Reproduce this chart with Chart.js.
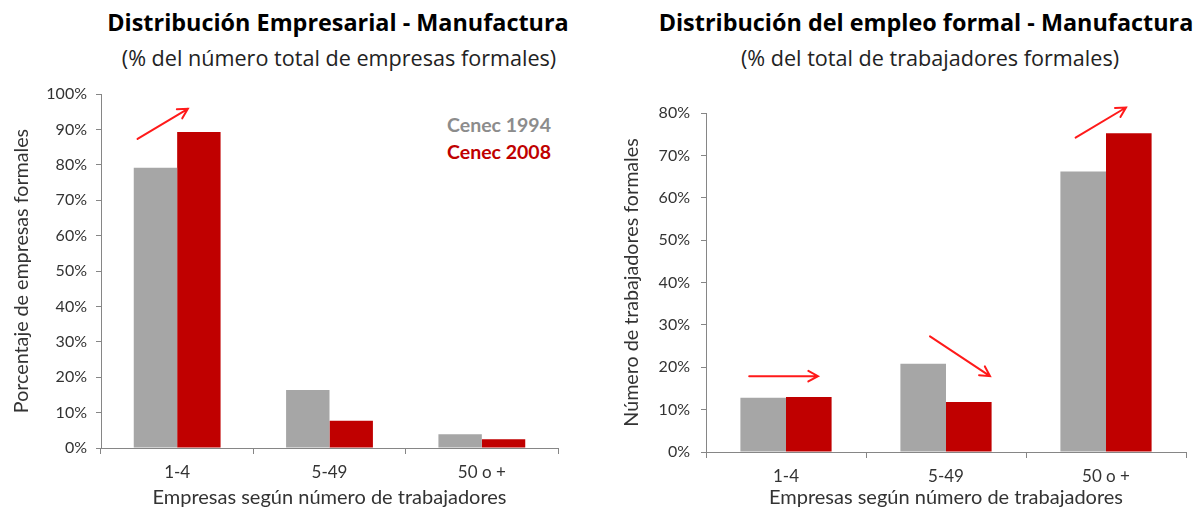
<!DOCTYPE html>
<html>
<head>
<meta charset="utf-8">
<script src="https://cdn.jsdelivr.net/npm/chart.js@4/dist/chart.umd.min.js"></script>
<style>
  body { margin: 0; background: #fff; font-family: Lato, "Open Sans", sans-serif; }
  #wrap { position: relative; width: 1199px; height: 508px; overflow: hidden; }
  .box { position: absolute; top: 0; height: 508px; }
  .ttl { position: absolute; white-space: nowrap; transform: translate(-50%, -50%); color: #000; font-family: "Open Sans", Lato, sans-serif; }
  .main { font-weight: bold; font-size: 23.4px; }
  .sub { font-size: 21.6px; color: #222; }
  .leg { position: absolute; font-weight: bold; font-size: 19.5px; text-align: right; white-space: nowrap; transform: translateY(-50%); }
</style>
</head>
<body>
<div id="wrap">
  <div class="ttl main" style="left:338px;top:22px">Distribución Empresarial - Manufactura</div>
  <div class="ttl sub" style="left:339px;top:57px">(% del número total de empresas formales)</div>
  <div class="ttl main" style="left:926px;top:22px">Distribución del empleo formal - Manufactura</div>
  <div class="ttl sub" style="left:930px;top:57px">(% del total de trabajadores formales)</div>
  <div class="leg" style="right:648px;top:124px;color:#8c8c8c">Cenec 1994</div>
  <div class="leg" style="right:648px;top:151px;color:#c00000">Cenec 2008</div>
  <div class="box" style="left:0;width:600px"><canvas id="empresasChart"></canvas></div>
  <div class="box" style="left:600px;width:599px"><canvas id="empleoChart"></canvas></div>
</div>
<script>
"use strict";

// DATA -----------------------
const categories = ["1-4", "5-49", "50 o +"];
const seriesNames = ["Cenec 1994", "Cenec 2008"];

// % del número total de empresas formales
const empresas1994 = [79.2, 16.4, 3.9];
const empresas2008 = [89.3, 7.7, 2.5];

// % del total de trabajadores formales
const empleo1994 = [12.8, 20.8, 66.2];
const empleo2008 = [13.0, 11.8, 75.2];

const empresasTicks = [0, 10, 20, 30, 40, 50, 60, 70, 80, 90, 100];
const empleoTicks = [0, 10, 20, 30, 40, 50, 60, 70, 80];

// trend arrows: [category, offset in category widths, value %]
const empresasArrows = [
  { from: [0, -0.26, 87.3], to: [0, 0.07, 95.8] }
];
const empleoArrows = [
  { from: [0, -0.23, 17.9], to: [0, 0.2, 17.9] },
  { from: [1, -0.1, 27.3], to: [1, 0.275, 17.9] },
  { from: [2, -0.19, 74.2], to: [2, 0.125, 81.3] }
];

// STYLE -----------------------
const grayBar = '#a6a6a6';
const redBar = '#c00000';
const axisColor = '#868686';
const textColor = '#333333';
const fontFamily = 'Lato, "Open Sans", sans-serif';

Chart.defaults.font.family = fontFamily;
Chart.defaults.color = textColor;
Chart.defaults.animation = false;

// Draw red arrows positioned through the chart scales
const arrowPlugin = {
  id: 'arrows',
  afterDraw(chart, args, opts) {
    const { ctx, scales: { x, y } } = chart;
    const catWidth = x.getPixelForValue(1) - x.getPixelForValue(0);
    const toPx = p => [x.getPixelForValue(p[0]) + p[1] * catWidth, y.getPixelForValue(p[2])];
    ctx.save();
    ctx.strokeStyle = '#ff1a1a';
    ctx.lineWidth = 2;
    ctx.lineCap = 'round';
    (opts.list || []).forEach(a => {
      const [x1, y1] = toPx(a.from);
      const [x2, y2] = toPx(a.to);
      const ang = Math.atan2(y2 - y1, x2 - x1);
      const head = 11;
      ctx.beginPath();
      ctx.moveTo(x1, y1);
      ctx.lineTo(x2, y2);
      ctx.moveTo(x2 - head * Math.cos(ang - 0.5), y2 - head * Math.sin(ang - 0.5));
      ctx.lineTo(x2, y2);
      ctx.lineTo(x2 - head * Math.cos(ang + 0.5), y2 - head * Math.sin(ang + 0.5));
      ctx.stroke();
    });
    ctx.restore();
  }
};

function makeChart(canvasId, values1994, values2008, ticks, yTitle, arrows, box) {
  const ctx = document.getElementById(canvasId).getContext('2d');
  return new Chart(ctx, {
    type: 'bar',
    data: {
      labels: categories,
      datasets: [
        { label: seriesNames[0], data: values1994, backgroundColor: grayBar },
        { label: seriesNames[1], data: values2008, backgroundColor: redBar }
      ]
    },
    options: {
      responsive: true,
      maintainAspectRatio: false,
      datasets: { bar: { categoryPercentage: 0.57, barPercentage: 1.0 } },
      layout: { padding: { top: box.top, right: box.right, bottom: 0, left: 0 } },
      plugins: {
        legend: { display: false },
        tooltip: { enabled: false },
        arrows: { list: arrows }
      },
      scales: {
        x: {
          grid: { offset: true, drawOnChartArea: false, tickLength: 6, color: axisColor },
          border: { color: axisColor, width: 1 },
          ticks: { font: { size: 17 }, color: textColor, padding: 8 },
          title: {
            display: true,
            text: 'Empresas según número de trabajadores',
            font: { size: 20, lineHeight: 1 },
            color: textColor,
            padding: { top: 0, bottom: 0 }
          },
          afterFit(scale) { scale.height = box.xHeight; }
        },
        y: {
          min: ticks[0],
          max: ticks[ticks.length - 1],
          afterBuildTicks(scale) { scale.ticks = ticks.map(v => ({ value: v })); },
          grid: { drawOnChartArea: false, tickLength: 5, color: axisColor },
          border: { color: axisColor, width: 1 },
          ticks: { font: { size: 16 }, color: textColor, padding: box.tickPad, callback: v => v + '%' },
          title: {
            display: true,
            text: yTitle,
            font: { size: 19.7, lineHeight: 1.2 },
            color: textColor,
            padding: { top: box.titlePad, bottom: 0 }
          },
          afterFit(scale) { scale.width = box.yWidth; }
        }
      }
    },
    plugins: [arrowPlugin]
  });
}

makeChart('empresasChart', empresas1994, empresas2008, empresasTicks,
  'Porcentaje de empresas formales', empresasArrows,
  { top: 94, right: 42, yWidth: 101, xHeight: 60, tickPad: 9, titlePad: 10 });

makeChart('empleoChart', empleo1994, empleo2008, empleoTicks,
  'Número de trabajadores formales', empleoArrows,
  { top: 113, right: 13, yWidth: 106, xHeight: 56, tickPad: 11, titlePad: 20 });
</script>
</body>
</html>
